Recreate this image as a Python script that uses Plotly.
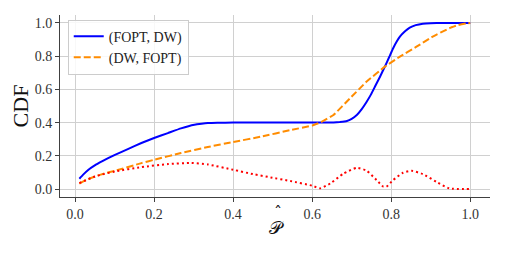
import plotly.graph_objects as go

# (FOPT, DW)
x_blue = [0.011, 0.02, 0.034, 0.05, 0.068, 0.085, 0.101, 0.135, 0.168, 0.2, 0.235, 0.268, 0.302, 0.32, 0.336, 0.36, 0.4, 0.5, 0.6, 0.64, 0.654, 0.67, 0.688, 0.70, 0.713, 0.725, 0.738, 0.749, 0.759, 0.772, 0.784, 0.795, 0.805, 0.814, 0.822, 0.835, 0.847, 0.862, 0.88, 0.90, 0.93, 1.0]
y_blue = [0.062, 0.085, 0.116, 0.142, 0.166, 0.187, 0.206, 0.242, 0.277, 0.307, 0.337, 0.365, 0.387, 0.393, 0.397, 0.399, 0.40, 0.40, 0.40, 0.40, 0.401, 0.404, 0.41, 0.423, 0.446, 0.48, 0.526, 0.57, 0.617, 0.678, 0.737, 0.795, 0.848, 0.888, 0.918, 0.950, 0.972, 0.987, 0.996, 0.999, 1.0, 1.0]

# (DW, FOPT)
x_orange = [0.011, 0.03, 0.051, 0.075, 0.101, 0.168, 0.2, 0.268, 0.336, 0.4, 0.47, 0.545, 0.6, 0.62, 0.654, 0.696, 0.738, 0.784, 0.822, 0.864, 0.905, 0.947, 0.97, 0.989, 1.0]
y_orange = [0.032, 0.056, 0.076, 0.094, 0.11, 0.156, 0.176, 0.217, 0.253, 0.283, 0.315, 0.355, 0.382, 0.40, 0.446, 0.547, 0.647, 0.737, 0.797, 0.857, 0.918, 0.968, 0.988, 0.997, 1.0]

# absolute difference
x_red = [0.011, 0.051, 0.101, 0.168, 0.235, 0.294, 0.336, 0.4, 0.45, 0.495, 0.545, 0.6, 0.62, 0.646, 0.68, 0.713, 0.738, 0.763, 0.78, 0.788, 0.805, 0.83, 0.851, 0.88, 0.914, 0.947, 1.0]
y_red = [0.036, 0.076, 0.106, 0.132, 0.15, 0.157, 0.148, 0.116, 0.09, 0.07, 0.048, 0.02, 0.004, 0.034, 0.094, 0.128, 0.11, 0.054, 0.014, 0.014, 0.054, 0.098, 0.11, 0.09, 0.044, 0.004, 0.0]

tick_vals = [0.0, 0.2, 0.4, 0.6, 0.8, 1.0]
tick_text = ["0.0", "0.2", "0.4", "0.6", "0.8", "1.0"]

FONT = "Liberation Serif"

fig = go.Figure()
fig.add_trace(go.Scatter(x=x_blue, y=y_blue, mode="lines", name="(FOPT, DW)",
                         line=dict(color="#0000ff", width=2, shape="spline", smoothing=0.3)))
fig.add_trace(go.Scatter(x=x_orange, y=y_orange, mode="lines", name="(DW, FOPT)",
                         line=dict(color="#ff8c00", width=2, dash="7px,3px", shape="spline", smoothing=0.3)))
fig.add_trace(go.Scatter(x=x_red, y=y_red, mode="lines", showlegend=False,
                         line=dict(color="#ff0000", width=2, dash="2px,3px", shape="spline", smoothing=0.5)))

axis_common = dict(
    showgrid=True, gridcolor="#d0d0d0", gridwidth=1,
    zeroline=False, showline=True, linecolor="#404040", linewidth=1,
    ticks="outside", ticklen=4, tickcolor="#404040",
    tickvals=tick_vals, ticktext=tick_text, automargin=False,
    tickfont=dict(family=FONT, size=14, color="#333333"),
)

fig.update_layout(
    width=498, height=245,
    margin=dict(l=52, r=16, t=7, b=56, autoexpand=False),
    plot_bgcolor="white", paper_bgcolor="white",
    xaxis=dict(range=[-0.038, 1.05], title=dict(text="𝒫", font=dict(family="DejaVu Serif", size=18, color="#111111"), standoff=0), **axis_common),
    yaxis=dict(range=[-0.048, 1.048], title=dict(text="CDF", font=dict(family=FONT, size=22, color="#111111"), standoff=4), **axis_common),
    legend=dict(x=0.018, y=0.975, xanchor="left", yanchor="top",
                bgcolor="rgba(255,255,255,0.85)", bordercolor="#cccccc", borderwidth=1,
                font=dict(family=FONT, size=14, color="#222222"), tracegroupgap=0),
    showlegend=True,
)

# hat over the x-axis title
fig.add_annotation(text="ˆ", xref="paper", yref="paper", x=0.507, y=-0.085, xanchor="center", yanchor="middle",
                   showarrow=False, font=dict(family="DejaVu Sans", size=16, color="#111111"))

fig.write_html("out.html")
